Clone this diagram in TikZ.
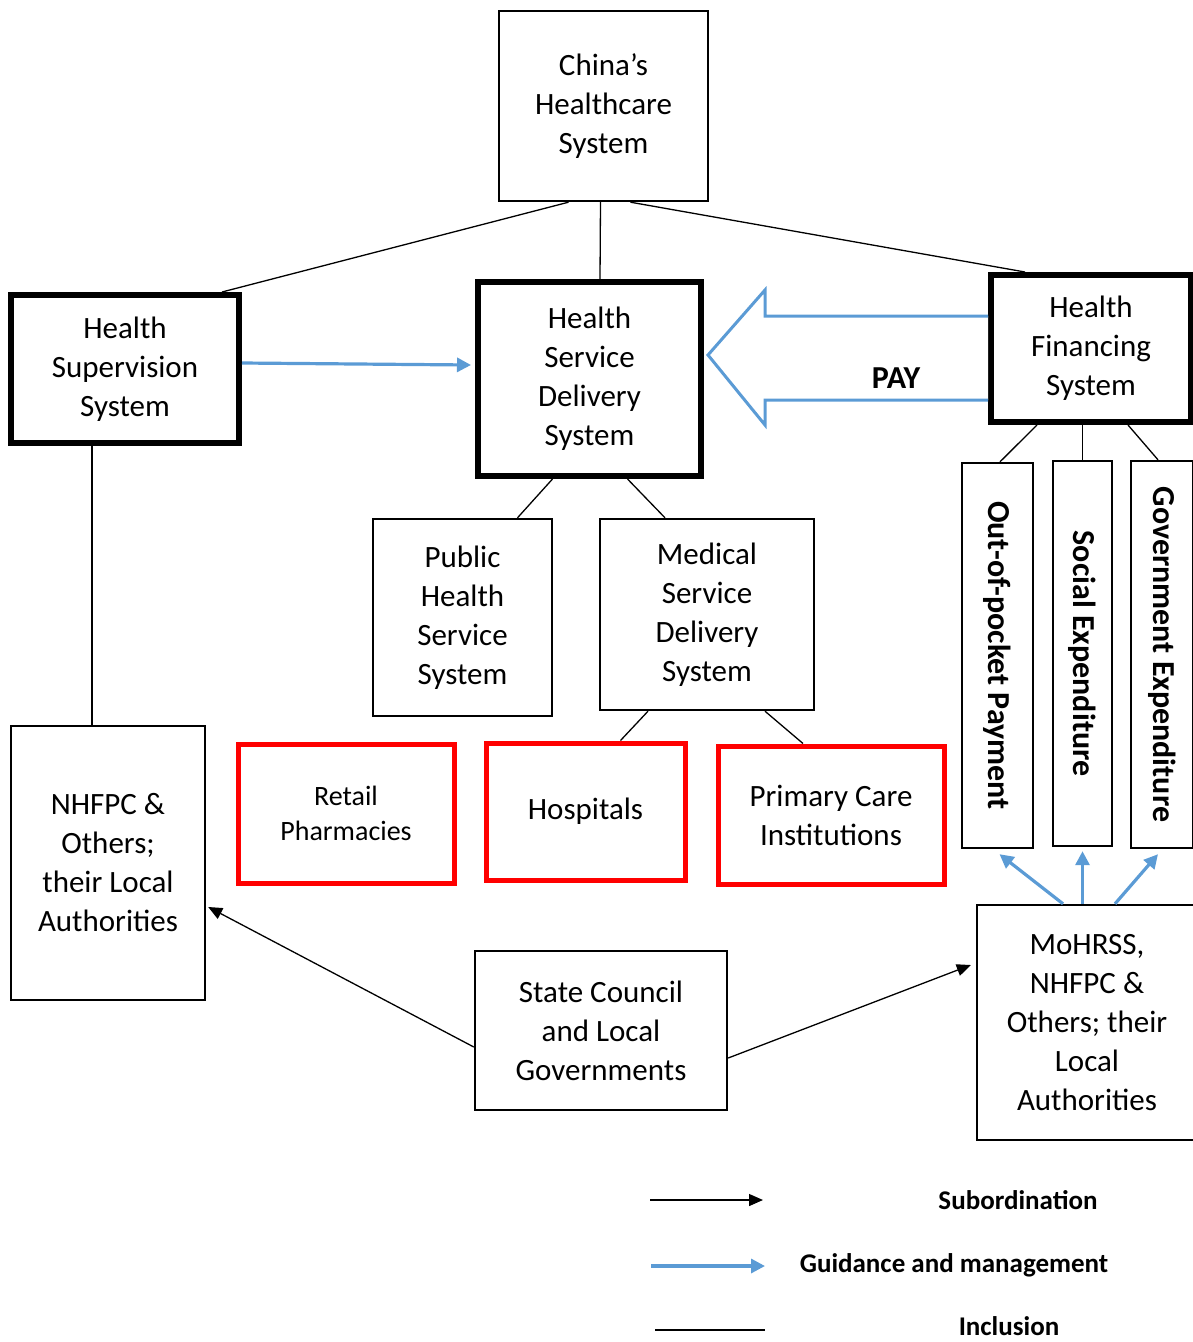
\documentclass[tikz,border=0pt]{standalone}
\usepackage{fontspec}
\setmainfont{Carlito}
\usetikzlibrary{arrows.meta,calc}
\definecolor{gblue}{HTML}{5B9BD5}
\definecolor{rred}{HTML}{FF0000}
\begin{document}
\begin{tikzpicture}[x=1pt,y=-1pt,
  box/.style={draw=black,line width=2.4pt,align=center,inner sep=0pt,
    font=\fontsize{31}{39}\selectfont},
  thickbox/.style={box,line width=6pt},
  redbox/.style={box,draw=rred,line width=5pt},
  vbox/.style={box,font=\fontsize{32}{36}\selectfont\bfseries},
  incl/.style={line width=1.3pt},
  sub/.style={line width=1.3pt,-{Triangle[length=14pt,width=12pt]}},
  guide/.style={draw=gblue,line width=3.2pt,-{Triangle[length=14pt,width=14pt]}},
  legtxt/.style={font=\fontsize{27}{30}\selectfont\bfseries,inner sep=0pt}]
\useasboundingbox (0,0) rectangle (1192,1342);

% main boxes
\node[box,minimum width=209pt,minimum height=190pt] (china) at (603.5,106) {China’s\\Healthcare\\System};
\node[thickbox,minimum width=228pt,minimum height=148pt] (hsup) at (125,369) {Health\\Supervision\\System};
\node[thickbox,minimum width=223pt,minimum height=194pt] (hsd) at (589.5,379) {Health\\Service\\Delivery\\System};
\node[thickbox,minimum width=200pt,minimum height=147pt] (hfin) at (1091,348.5) {Health\\Financing\\System};
\node[box,minimum width=179pt,minimum height=197pt] (public) at (462.5,617.5) {Public\\Health\\Service\\System};
\node[box,minimum width=214pt,minimum height=191pt] (medical) at (707,614.5) {Medical\\Service\\Delivery\\System};
\node[redbox,minimum width=216pt,minimum height=139pt,font=\fontsize{28}{35}\selectfont] (retail) at (346,813.5) {Retail\\Pharmacies};
\node[redbox,minimum width=199pt,minimum height=137pt] (hosp) at (585.5,811.5) {Hospitals};
\node[redbox,minimum width=226pt,minimum height=138pt] (primary) at (831,815) {Primary Care\\Institutions};
\node[box,minimum width=194pt,minimum height=274pt] (nhfpc) at (108,863) {NHFPC \&\\Others;\\their Local\\Authorities};
\node[box,minimum width=252pt,minimum height=159pt] (state) at (601,1030.5) {State Council\\and Local\\Governments};
\node[box,minimum width=220pt,minimum height=235pt] (mohrss) at (1087,1022.5) {MoHRSS,\\NHFPC \&\\Others; their\\Local\\Authorities};
\node[vbox,minimum width=71pt,minimum height=385pt] (oop) at (997.5,655.5) {\rotatebox{-90}{Out-of-pocket Payment}};
\node[vbox,minimum width=59pt,minimum height=385pt] (social) at (1082.5,653.5) {\rotatebox{-90}{Social Expenditure}};
\node[vbox,minimum width=62pt,minimum height=387pt] (govt) at (1162,654.5) {\rotatebox{-90}{Government Expenditure}};

% inclusion lines
\draw[incl] ([xshift=-35pt]china.south) -- ([xshift=97pt]hsup.north);
\draw[incl] ([xshift=-3pt]china.south) -- ([xshift=10.5pt]hsd.north);
\draw[incl] ([xshift=27pt]china.south) -- ([xshift=-66pt]hfin.north);
\draw[incl] ([xshift=-33pt]hsup.south) -- ([xshift=-16pt]nhfpc.north);
\draw[incl] ([xshift=-37pt]hsd.south) -- ([xshift=55pt]public.north);
\draw[incl] ([xshift=38pt]hsd.south) -- ([xshift=-42pt]medical.north);
\draw[incl] ([xshift=-59pt]medical.south) -- ([xshift=35pt]hosp.north);
\draw[incl] ([xshift=58pt]medical.south) -- ([xshift=-28pt]primary.north);
\draw[incl] ([xshift=-54pt]hfin.south) -- ([xshift=2.5pt]oop.north);
\draw[incl] (hfin.south -| social.north) -- (social.north);
\draw[incl] ([xshift=37pt]hfin.south) -- ([xshift=-4pt]govt.north);

% subordination
\draw[sub] ([yshift=-16.5pt]state.west) -- ([xshift=2pt,yshift=-44pt]nhfpc.east);
\draw[sub] ([yshift=-27.5pt]state.east) -- ([xshift=-5pt,yshift=57.5pt]mohrss.west);

% guidance
\draw[guide] ([yshift=6pt]hsup.east) -- ([xshift=-4pt,yshift=14pt]hsd.west);
\draw[guide] ([xshift=-24pt]mohrss.north) -- ([xshift=2pt,yshift=-5pt]oop.south);
\draw[guide] (mohrss.north -| social.south) -- ([yshift=-4pt]social.south);
\draw[guide] ([xshift=28pt]mohrss.north) -- ([xshift=-4pt,yshift=-5pt]govt.south);

% PAY block arrow
\coordinate (paytip) at ([xshift=4pt,yshift=24pt]hsd.east);
\coordinate (paytop) at ([yshift=32.5pt]hfin.west);
\coordinate (paybot) at ([yshift=-51.5pt]hfin.west);
\draw[gblue,line width=3pt,fill=white,line join=miter]
  (paytop) -- (paytop -| 765,0) -- (765,290) -- (paytip) -- (765,425) -- (paybot -| 765,0) -- (paybot);
\node[legtxt,font=\fontsize{32}{34}\selectfont\bfseries] (pay) at (896,378) {PAY};

% legend
\coordinate (l1a) at (650,1200); \coordinate (l1b) at (763,1200);
\coordinate (l2a) at (651,1266); \coordinate (l2b) at (765,1266);
\coordinate (l3a) at (655,1330); \coordinate (l3b) at (765,1330);
\draw[sub] (l1a) -- (l1b);
\draw[guide] (l2a) -- (l2b);
\draw[incl] (l3a) -- (l3b);
\node[legtxt] (lsub) at (1018,1200) {Subordination};
\node[legtxt] (lgui) at (954,1265) {Guidance and management};
\node[legtxt] (linc) at (1009,1326) {Inclusion};
\end{tikzpicture}
\end{document}
